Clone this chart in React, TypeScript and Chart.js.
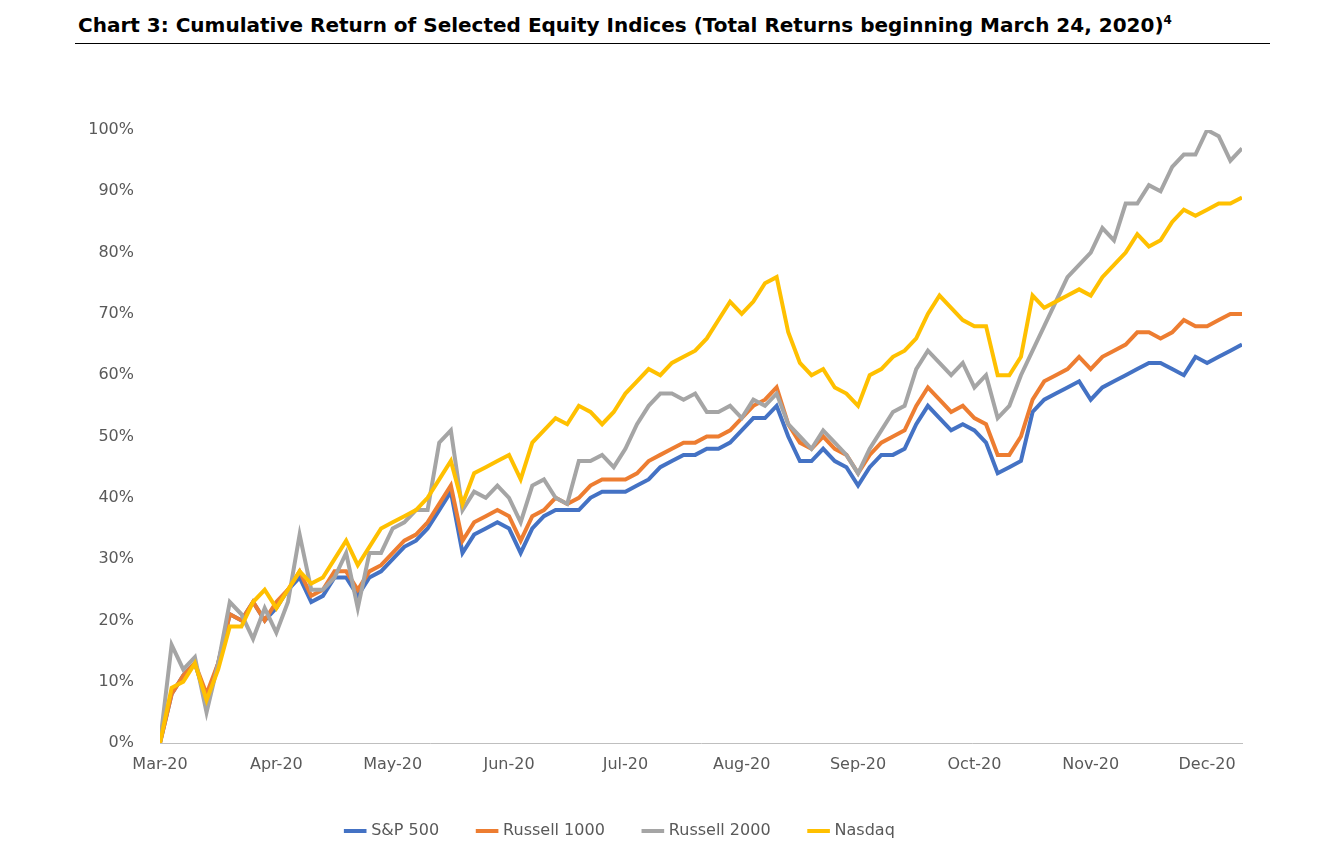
import React, { useEffect, useRef } from "react";
import { Chart, registerables } from "chart.js";
Chart.register(...registerables);

const monthLabels = ["Mar-20","Apr-20","May-20","Jun-20","Jul-20","Aug-20","Sep-20","Oct-20","Nov-20","Dec-20"];
// x positions in months since Mar 24, 2020 (step 0.1)
const xs = Array.from({ length: 94 }, (_, i) => +(i / 10).toFixed(1));
const sp500 = [0,8,11,13,7,13,21,20,23,20,22,25,27,23,24,27,27,24,27,28,30,32,33,35,38,41,31,34,35,36,35,31,35,37,38,38,38,40,41,41,41,42,43,45,46,47,47,48,48,49,51,53,53,55,50,46,46,48,46,45,42,45,47,47,48,52,55,53,51,52,51,49,44,45,46,54,56,57,58,59,56,58,59,60,61,62,62,61,60,63,62,63,64,65];
const russell1000 = [0,8,11,13,8,13,21,20,23,20,23,25,28,24,25,28,28,25,28,29,31,33,34,36,39,42,33,36,37,38,37,33,37,38,40,39,40,42,43,43,43,44,46,47,48,49,49,50,50,51,53,55,56,58,52,49,48,50,48,47,44,47,49,50,51,55,58,56,54,55,53,52,47,47,50,56,59,60,61,63,61,63,64,65,67,67,66,67,69,68,68,69,70,70];
const russell2000 = [0,16,12,14,5,13,23,21,17,22,18,23,34,25,25,27,31,22,31,31,35,36,38,38,49,51,38,41,40,42,40,36,42,43,40,39,46,46,47,45,48,52,55,57,57,56,57,54,54,55,53,56,55,57,52,50,48,51,49,47,44,48,51,54,55,61,64,62,60,62,58,60,53,55,60,64,68,72,76,78,80,84,82,88,88,91,90,94,96,96,100,99,95,97];
const nasdaq = [0,9,10,13,7,12,19,19,23,25,22,25,28,26,27,30,33,29,32,35,36,37,38,40,43,46,39,44,45,46,47,43,49,51,53,52,55,54,52,54,57,59,61,60,62,63,64,66,69,72,70,72,75,76,67,62,60,61,58,57,55,60,61,63,64,66,70,73,71,69,68,68,60,60,63,73,71,72,73,74,73,76,78,80,83,81,82,85,87,86,87,88,88,89];

const pts = (arr: number[]) => arr.map((v, i) => ({ x: xs[i], y: v }));

export default function App() {
  const ref = useRef<HTMLCanvasElement>(null);
  useEffect(() => {
    document.body.style.margin = "0";
    const font = { family: "DejaVu Sans", size: 16 };
    const mk = (label: string, data: number[], color: string, order: number) => ({
      label, data: pts(data), borderColor: color, backgroundColor: color,
      borderWidth: 4, pointRadius: 0, tension: 0, order,
    });
    const chart = new Chart(ref.current!, {
      type: "line",
      data: {
        datasets: [
          mk("S&P 500", sp500, "#4472C4", 4),
          mk("Russell 1000", russell1000, "#ED7D31", 3),
          mk("Russell 2000", russell2000, "#A5A5A5", 2),
          mk("Nasdaq", nasdaq, "#FFC000", 1),
        ],
      },
      options: {
        animation: false,
        responsive: false,
        layout: { padding: { top: 130, right: 100, bottom: 10, left: 0 } },
        plugins: {
          tooltip: { enabled: false },
          legend: {
            position: "bottom",
            labels: {
              usePointStyle: true, pointStyle: "line", boxWidth: 40, padding: 40,
              color: "#595959", font,
              sort: (a: any, b: any) => a.datasetIndex - b.datasetIndex,
            },
          },
        },
        scales: {
          x: {
            type: "linear", min: 0, max: 9.3,
            afterBuildTicks: (s: any) => { s.ticks = monthLabels.map((_, i) => ({ value: i })); },
            afterFit: (s: any) => { s.height = 40; },
            ticks: { callback: (v: any) => monthLabels[v] ?? "", color: "#595959", font, maxRotation: 0, autoSkip: false, padding: 6 },
            grid: { display: false, drawTicks: true, tickLength: 6, color: "#BFBFBF" },
            border: { color: "#BFBFBF" },
          },
          y: {
            min: 0, max: 100,
            afterFit: (s: any) => { s.width = 160; },
            ticks: { stepSize: 10, callback: (v: any) => v + "%", color: "#595959", font, padding: 18 },
            grid: { display: false },
            border: { display: false },
          },
        },
      },
    });
    return () => chart.destroy();
  }, []);
  return (
    <div style={{ position: "relative", width: 1342, height: 859, background: "#fff" }}>
      <div style={{ position: "absolute", left: 78, top: 13, fontFamily: "DejaVu Sans", fontWeight: "bold", fontSize: 20, color: "#000", whiteSpace: "nowrap" }}>
        Chart 3: Cumulative Return of Selected Equity Indices (Total Returns beginning March 24, 2020)<sup style={{ fontSize: 12 }}>4</sup>
      </div>
      <div style={{ position: "absolute", left: 75, top: 43, width: 1195, height: 1, background: "#000" }} />
      <canvas ref={ref} width={1342} height={859} style={{ position: "absolute", left: 0, top: 0 }} />
    </div>
  );
}
